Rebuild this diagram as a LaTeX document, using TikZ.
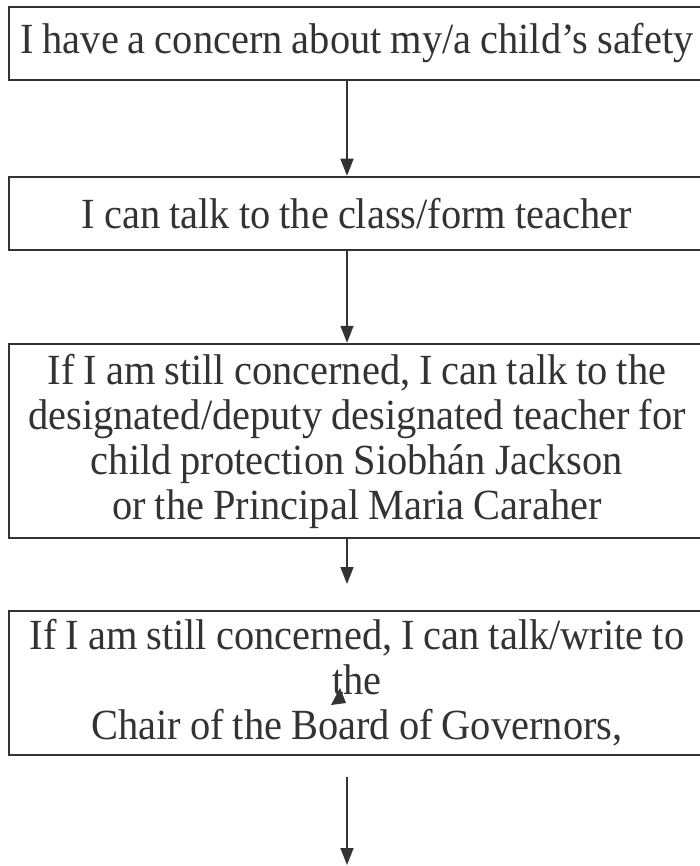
\documentclass[tikz,border=0pt]{standalone}
\usepackage{fontspec}
\setmainfont{Liberation Serif}[FakeStretch=0.94]
\usetikzlibrary{arrows.meta}
\definecolor{scan}{HTML}{333333}
\begin{document}
\begin{tikzpicture}[x=1pt, y=-1pt,
	stepbox/.style={draw=scan, line width=2.5pt, minimum width=696pt, text width=690pt,
		align=center, inner sep=0pt, text=scan,
		font=\fontsize{43}{45}\selectfont,
		execute at begin node={\spaceskip=9pt\relax}},
	flow/.style={-{Triangle[width=13pt,length=17pt]}, draw=scan, line width=1.6pt}]
		\clip (0,0) rectangle (700,866);
		\node[stepbox, minimum height=73pt] (concern) at (357,43.5) {I have a concern about my/a child's safety};
		\node[stepbox, minimum height=73pt] (teacher) at (357,213.5) {I can talk to the class/form teacher};
		\node[stepbox, minimum height=194pt] (designated) at (357,441) {If I am still concerned, I can talk to the\\designated/deputy designated teacher for\\child protection Siobhán Jackson\\or the Principal Maria Caraher};
		\node[stepbox, minimum height=144pt] (chair) at (357,683) {If I am still concerned, I can talk/write to\\the\\Chair of the Board of Governors,};
		\coordinate (endthree) at (347,584);
		\coordinate (startfour) at (347,777);
		\coordinate (endfour) at (347,865);
		\draw[flow] ([xshift=-10pt]concern.south) -- ([xshift=-10pt]teacher.north);
		\draw[flow] ([xshift=-10pt]teacher.south) -- ([xshift=-10pt]designated.north);
		\draw[flow] ([xshift=-10pt]designated.south) -- (endthree);
		\draw[flow] (startfour) -- (endfour);
		% stray tip beside "the"
		\fill[scan] (340,688) -- (331,705) -- (346,703) -- cycle;
	\end{tikzpicture}
\end{document}
